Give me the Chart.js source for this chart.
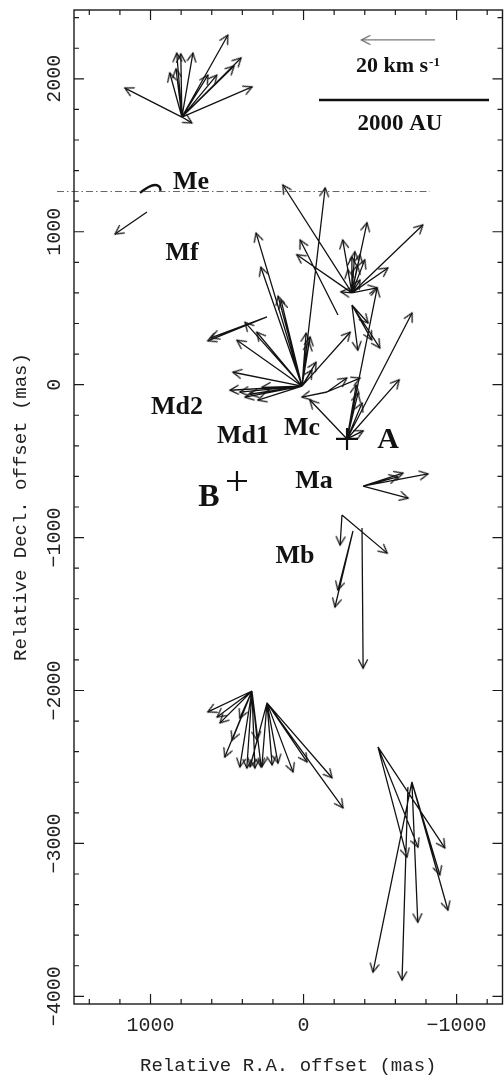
<!DOCTYPE html>
<html>
<head>
<meta charset="utf-8">
<script src="https://cdn.jsdelivr.net/npm/chart.js@4.4.1/dist/chart.umd.min.js"></script>
<style>
html,body{margin:0;padding:0;background:#fff;}
#wrap{width:504px;height:1080px;}
</style>
</head>
<body>
<div id="wrap"><canvas id="c" width="504" height="1080"></canvas></div>
<script>
// ---------------- DATA ----------------
// Axis ranges (mas)
const raRange = [-1300, 1500];
const decRange = [-4050, 2450];
const xMajorTicks = [-1000, 0, 1000];
const xMinorTicks = [-1200, -800, -600, -400, -200, 200, 400, 600, 800, 1200, 1400];
const yMajorTicks = [-4000, -3000, -2000, -1000, 0, 1000, 2000];
const yMinorTicks = [-3800, -3600, -3400, -3200, -2800, -2600, -2400, -2200, -1800, -1600, -1400, -1200,
  -800, -600, -400, -200, 200, 400, 600, 800, 1200, 1400, 1600, 1800, 2200, 2400];

// Maser feature (arrow tail) positions, mas
const featureRA  = [795, 1023, 10, -153, 239, -316, -225, -316, -284, -388, -251, -323, -382, 337, 239, -486, -708, -682];
const featureDec = [1750, 1129, -10, -48, 443, 600, 456, 521, -355, -663, -852, -957, -937, -2003, -2081, -2369, -2598, -2631];

// Proper motions (km/s): feature index, RA component (+ = east), Dec component
const arrowFeature = [
  0,0,0,0,0,0,0,0,0,0,0,0,0,
  1,
  2,2,2,2,2,2,2,2,2,2,2,2,2,2,2,2,2,2,2,2,2,
  3,3,3,
  4,4,
  5,5,5,5,5,5,5,5,5,5,5,5,5,5,5,
  6,
  7,7,7,7,
  8,8,8,8,8,8,8,8,
  9,9,9,9,
  10,10,
  11,11,
  12,
  13,13,13,13,13,13,13,13,13,13,13,
  14,14,14,14,14,14,14,14,
  15,15,15,
  16,16,16,16,
  17
];
const arrowVRA = [
  15.5, -19.1, -12.5, -16.1, -14.2, -9.5, -3.0, 1.4, 0.3, 3.3, 1.6, -2.7, -7.1,
  8.7,
  12.5, 11.2, 5.7, 15.5, 17.7, 12.3, 6.5, -6.3, -2.2, -1.9, -2.7, -13.1, 18.8, 19.6, 15.5, 12.0, 10.9, 16.9, 14.2, -1.1, -3.8,
  -9.0, -5.4, 6.8,
  16.1, 15.3,
  -4.1, 2.5, -19.3, -9.8, -6.8, 0.0, -2.2, -3.5, -0.8, 18.8, 15.0, 1.1, -2.2, 3.0, -1.5,
  10.3,
  -1.6, -7.6, -4.4, -5.4,
  -17.7, -14.2, 10.1, -3.0, -4.1, -4.4, -8.2, -2.5,
  -10.9, -17.7, -12.3, -9.5,
  0.5, -12.3,
  4.9, 4.1,
  -0.3,
  12.0, 9.5, 8.7, 7.4, 3.3, 1.4, -0.8, 3.3, 5.4, -2.5, -1.4,
  -1.4, -3.0, -7.1, -10.9, -17.7, -20.7, 4.6, 1.4,
  -7.9, -10.9, -18.2,
  -7.6, -9.8, -1.6, 10.6,
  1.6
];
const arrowVDec = [
  7.9, 8.2, 22.3, 16.1, 13.9, 11.4, 17.4, 17.4, 17.2, 12.0, 13.1, -1.6, 11.4,
  -6.0,
  41.7, 32.4, 23.4, 17.4, 12.5, 14.7, 24.5, 54.0, 13.4, 12.0, 4.4, 14.7, 3.8, -1.1, -3.0, -3.8, -0.3, -1.6, -2.2, 14.4, 6.5,
  3.8, 3.8, -1.4,
  -6.5, -5.7,
  19.1, 14.4, 18.5, 6.8, 1.4, 9.8, 10.4, 9.0, 11.2, 29.4, 10.4, 6.3, 3.5, 0.3, 7.5,
  20.4,
  -12.3, -11.7, -4.9, -9.5,
  34.3, 16.1, 10.6, 12.5, 9.8, 2.2, 41.1, 14.7,
  3.5, 3.3, -3.3, 2.5,
  -8.2, -10.4,
  -20.7, -16.1,
  -38.2,
  -5.7, -7.1, -8.7, -18.0, -20.7, -21.0, -21.0, -7.4, -13.4, -20.7, -13.4,
  -16.9, -16.4, -18.8, -16.1, -20.4, -28.6, -17.4, -17.4,
  -30.0, -27.3, -27.5,
  -25.3, -34.9, -38.2, -51.8,
  -52.6
];

// Velocity scale: arrow length in mas per km/s (20 km/s reference arrow)
const masPerKms = 24;
const refArrowRA = [-859];
const refArrowDec = [2254];
const refArrowSpeed = [20];

// 2000 AU scale bar (mas)
const scaleBarRA = [-101, -1212];
const scaleBarDec = [1861, 1861];

// Dash-dot line
const dashRA = [1611, -826];
const dashDec = [1263, 1263];

// Me curved feature
const meCurveRA = [1069, 1015, 971, 943, 934];
const meCurveDec = [1255, 1291, 1306, 1295, 1268];

// Continuum sources A and B (plus markers)
const sourceName = ['A', 'B'];
const sourceRA = [-284, 435];
const sourceDec = [-355, -630];

// Text labels
const groupLabels = ['Me', 'Mf', 'Md2', 'Md1', 'Mc', 'Ma', 'Mb'];
const groupLabelRA = [735, 794, 827, 396, 10, -68, 56];
const groupLabelDec = [1325, 861, -146, -336, -283, -630, -1120];
const sourceLabelRA = [-552, 618];
const sourceLabelDec = [-362, -741];
const velLabelRA = [-617];
const velLabelDec = [2090];
const auLabel = ['2000 AU'];
const auLabelRA = [-630];
const auLabelDec = [1704];

// ---------------- BUILD ----------------
function makeHead(color) {
  const c = document.createElement('canvas');
  c.width = 24; c.height = 24;
  const g = c.getContext('2d');
  g.strokeStyle = color;
  g.lineWidth = 1.3;
  g.lineCap = 'round';
  g.beginPath();
  g.moveTo(12 - 4.4, 12 + 8.3);
  g.lineTo(12, 12);
  g.lineTo(12 + 4.4, 12 + 8.3);
  g.stroke();
  return c;
}
const headBlack = makeHead('#121212');
const headGray = makeHead('#6e6e6e');

function buildArrows(tailsRA, tailsDec, vra, vdec) {
  const pts = [];
  for (let i = 0; i < vra.length; i++) {
    const tx = tailsRA[i], ty = tailsDec[i];
    pts.push({x: tx, y: ty});
    pts.push({x: tx + vra[i] * masPerKms, y: ty + vdec[i] * masPerKms, tx: tx, ty: ty, head: true});
    pts.push({x: null, y: null});
  }
  return pts;
}
const arrowPts = buildArrows(
  arrowFeature.map(f => featureRA[f]),
  arrowFeature.map(f => featureDec[f]),
  arrowVRA, arrowVDec);
const refPts = buildArrows(refArrowRA, refArrowDec, refArrowSpeed, [0]);

function headRotation(ctx) {
  const r = ctx.raw;
  if (!r || !r.head) return 0;
  const xs = ctx.chart.scales.x, ys = ctx.chart.scales.y;
  const dx = xs.getPixelForValue(r.x) - xs.getPixelForValue(r.tx);
  const dy = ys.getPixelForValue(r.y) - ys.getPixelForValue(r.ty);
  return Math.atan2(dx, -dy) * 180 / Math.PI;
}
function headRadius(ctx) {
  return ctx.raw && ctx.raw.head ? 8 : 0;
}
const zip = (a, b) => a.map((v, i) => ({x: v, y: b[i]}));

const FONT_AXIS = 'Liberation Mono';
const FONT_LBL = '"Liberation Serif", "Times New Roman", serif';

// measure widest y label to centre the rotated tick labels
const fmt = v => v < 0 ? '\u2212' + Math.abs(v) : String(v);
const mctx = document.createElement('canvas').getContext('2d');
mctx.font = '20px "' + FONT_AXIS + '"';
const widestY = Math.max(...yMajorTicks.map(v => mctx.measureText(fmt(v)).width));
const yLabelCentre = 54.5;
const yAxisWidth = 74;

const frameTicks = {
  id: 'frameTicks',
  afterDraw(chart) {
    const {ctx, chartArea: a, scales: {x, y}} = chart;
    ctx.save();
    ctx.strokeStyle = '#1a1a1a';
    ctx.lineWidth = 1.4;
    ctx.strokeRect(a.left, a.top, a.right - a.left, a.bottom - a.top);
    ctx.lineWidth = 1.2;
    ctx.beginPath();
    const xt = (vals, len) => vals.forEach(v => {
      const p = x.getPixelForValue(v);
      ctx.moveTo(p, a.bottom); ctx.lineTo(p, a.bottom - len);
      ctx.moveTo(p, a.top); ctx.lineTo(p, a.top + len);
    });
    const yt = (vals, len) => vals.forEach(v => {
      const p = y.getPixelForValue(v);
      ctx.moveTo(a.left, p); ctx.lineTo(a.left + len, p);
      ctx.moveTo(a.right, p); ctx.lineTo(a.right - len, p);
    });
    xt(xMajorTicks, 10); xt(xMinorTicks, 5);
    yt(yMajorTicks, 10); yt(yMinorTicks, 5);
    ctx.stroke();
    ctx.restore();
  }
};

const textLabels = {
  id: 'textLabels',
  afterDatasetsDraw(chart) {
    const {ctx, scales: {x, y}} = chart;
    ctx.save();
    ctx.fillStyle = '#121212';
    ctx.textAlign = 'center';
    ctx.textBaseline = 'middle';
    ctx.font = 'bold 26px ' + FONT_LBL;
    groupLabels.forEach((t, i) => {
      ctx.fillText(t, x.getPixelForValue(groupLabelRA[i]), y.getPixelForValue(groupLabelDec[i]));
    });
    const srcSize = [30, 32];
    sourceName.forEach((t, i) => {
      ctx.font = 'bold ' + srcSize[i] + 'px ' + FONT_LBL;
      ctx.fillText(t, x.getPixelForValue(sourceLabelRA[i]), y.getPixelForValue(sourceLabelDec[i]));
    });
    ctx.font = 'bold 23px ' + FONT_LBL;
    ctx.fillText(auLabel[0], x.getPixelForValue(auLabelRA[0]), y.getPixelForValue(auLabelDec[0]));
    // velocity scale label with superscript
    const main = refArrowSpeed[0] + ' km s';
    const sup = '-1';
    ctx.font = 'bold 22px ' + FONT_LBL;
    const w1 = ctx.measureText(main).width;
    ctx.font = 'bold 13px ' + FONT_LBL;
    const w2 = ctx.measureText(sup).width;
    const cx = x.getPixelForValue(velLabelRA[0]);
    const cy = y.getPixelForValue(velLabelDec[0]);
    const x0 = cx - (w1 + w2 + 1) / 2;
    ctx.textAlign = 'left';
    ctx.textBaseline = 'alphabetic';
    ctx.font = 'bold 22px ' + FONT_LBL;
    ctx.fillText(main, x0, cy + 7);
    ctx.font = 'bold 13px ' + FONT_LBL;
    ctx.fillText(sup, x0 + w1 + 1, cy + 1);
    ctx.restore();
  }
};

new Chart(document.getElementById('c'), {
  type: 'scatter',
  data: {
    datasets: [
      {
        label: 'dash',
        data: zip(dashRA, dashDec),
        showLine: true,
        borderColor: '#555',
        borderWidth: 0.9,
        borderDash: [7, 3, 1.5, 3],
        pointRadius: 0,
        clip: false
      },
      {
        label: 'proper motions',
        data: arrowPts,
        showLine: true,
        spanGaps: false,
        borderColor: '#121212',
        borderWidth: 1.3,
        pointStyle: headBlack,
        pointRadius: headRadius,
        pointRotation: headRotation,
        pointHoverRadius: headRadius
      },
      {
        label: 'reference arrow',
        data: refPts,
        showLine: true,
        spanGaps: false,
        borderColor: '#7a7a7a',
        borderWidth: 1.2,
        pointStyle: headGray,
        pointRadius: headRadius,
        pointRotation: headRotation
      },
      {
        label: 'scale bar',
        data: zip(scaleBarRA, scaleBarDec),
        showLine: true,
        borderColor: '#111',
        borderWidth: 2.6,
        pointRadius: 0
      },
      {
        label: 'Me curve',
        data: zip(meCurveRA, meCurveDec),
        showLine: true,
        borderColor: '#111',
        borderWidth: 2.4,
        tension: 0.45,
        pointRadius: 0
      },
      {
        label: 'sources',
        data: zip(sourceRA, sourceDec),
        showLine: false,
        pointStyle: 'cross',
        pointRadius: [11, 10],
        pointBorderWidth: 2.2,
        borderColor: '#111',
        pointBorderColor: '#111'
      }
    ]
  },
  options: {
    responsive: false,
    devicePixelRatio: 1,
    animation: false,
    events: [],
    layout: {autoPadding: false, padding: {top: 10, right: 1.5, left: 0, bottom: 0}},
    plugins: {legend: {display: false}, tooltip: {enabled: false}},
    scales: {
      x: {
        type: 'linear',
        reverse: true,
        min: raRange[0],
        max: raRange[1],
        grid: {display: false, drawTicks: false},
        border: {display: false},
        afterBuildTicks(s) { s.ticks = xMajorTicks.map(v => ({value: v})); },
        ticks: {
          autoSkip: false,
          maxRotation: 0,
          padding: 10,
          color: '#222',
          font: {family: FONT_AXIS, size: 20},
          callback: v => fmt(v)
        },
        title: {
          display: true,
          text: 'Relative R.A. offset (mas)',
          color: '#222',
          font: {family: FONT_AXIS, size: 19},
          padding: {top: 0, bottom: 3}
        },
        afterFit(s) { s.height = 76; s.paddingLeft = 0; s.paddingRight = 0; }
      },
      y: {
        type: 'linear',
        min: decRange[0],
        max: decRange[1],
        grid: {display: false, drawTicks: false},
        border: {display: false},
        afterBuildTicks(s) { s.ticks = yMajorTicks.map(v => ({value: v})); },
        ticks: {
          autoSkip: false,
          minRotation: 90,
          maxRotation: 90,
          crossAlign: 'center',
          padding: yAxisWidth - yLabelCentre - widestY / 2,
          color: '#222',
          font: {family: FONT_AXIS, size: 20},
          callback: v => fmt(v)
        },
        title: {
          display: true,
          text: 'Relative Decl. offset (mas)',
          color: '#222',
          font: {family: FONT_AXIS, size: 19},
          padding: {top: 9.5, bottom: 0}
        },
        afterFit(s) { s.width = yAxisWidth; s.paddingTop = 0; s.paddingBottom = 0; }
      }
    }
  },
  plugins: [frameTicks, textLabels]
});
</script>
</body>
</html>
